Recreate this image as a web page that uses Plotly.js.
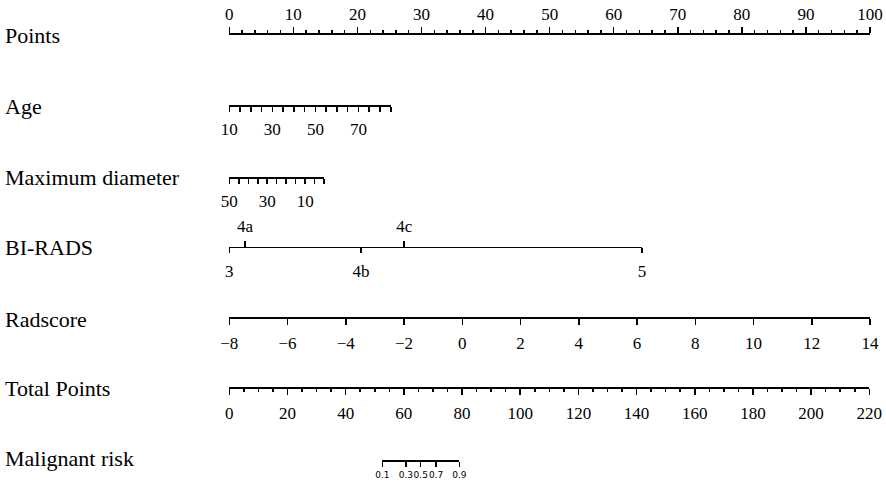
<!DOCTYPE html>
<html>
<head>
<meta charset="utf-8">
<script src="https://cdn.plot.ly/plotly-3.0.1.min.js"></script>
<style>html,body{margin:0;padding:0;background:#fff;}#chart{width:886px;height:487px;}</style>
</head>
<body>
<div id="chart"></div>
<script>
// ---- data ----
const rowNames = ['Points', 'Age', 'Maximum diameter', 'BI-RADS', 'Radscore', 'Total Points', 'Malignant risk'];

const pointsTicks = [0, 10, 20, 30, 40, 50, 60, 70, 80, 90, 100];

const ageRange = [10, 85];
const ageRangePoints = [0, 25.2];
const ageLabels = [10, 30, 50, 70];

const diameterRange = [50, 0];
const diameterRangePoints = [0, 14.8];
const diameterLabels = [50, 30, 10];

const biradsLevels = ['3', '4a', '4b', '4c', '5'];
const biradsPoints = [0, 2.45, 20.55, 27.3, 64.4];
const biradsBelow = ['3', '4b', '5'];

const radscoreRange = [-8, 14];
const radscoreRangePoints = [0, 100];
const radscoreTicks = [-8, -6, -4, -2, 0, 2, 4, 6, 8, 10, 12, 14];

const totalRange = [0, 220];
const totalTicks = [0, 20, 40, 60, 80, 100, 120, 140, 160, 180, 200, 220];

const riskLabels = ['0.1', '0.3', '0.5', '0.7', '0.9'];
const riskTotals = [52.6, 60.7, 65.8, 71.1, 79.1];

// ---- layout geometry ----
const W = 886, H = 487;
const X0 = 229.3, X100 = 870;           // pixel span of the Points scale
const rowY = [33, 105, 177, 246.5, 317, 387, 460];
const labelY = [35, 106, 177, 247, 319, 388, 458];

const pxPts = p => X0 + p * (X100 - X0) / 100;
const pxTot = t => X0 + t * (869.3 - X0) / 220;
const dom = (a, b) => [a / W, b / W];
const pos = y => 1 - y / H;

const FONT = 'Liberation Serif, Times New Roman, serif';
const tickfont = {family: FONT, size: 17, color: '#000'};
const base = {
  anchor: 'free', showline: true, linecolor: '#000', linewidth: 1.5,
  ticks: 'outside', tickcolor: '#000', tickwidth: 1.5, ticklen: 5, tickangle: 0,
  showgrid: false, zeroline: false, fixedrange: true, tickfont: tickfont
};

const layout = {
  width: W, height: H, margin: {l: 0, r: 0, t: 0, b: 0},
  paper_bgcolor: '#fff', plot_bgcolor: 'rgba(0,0,0,0)', showlegend: false,
  yaxis: {range: [0, 1], visible: false, domain: [0, 1], fixedrange: true},
  xaxis: Object.assign({}, base, {
    domain: dom(pxPts(0), pxPts(100)), range: [0, 100], position: pos(rowY[0]), side: 'top',
    tickmode: 'array', tickvals: pointsTicks, ticklen: 6, ticklabelstandoff: 0,
    minor: {tickmode: 'linear', tick0: 0, dtick: 2, ticks: 'outside', ticklen: 3, tickcolor: '#000', tickwidth: 1.5}
  }),
  xaxis2: Object.assign({}, base, {
    domain: dom(pxPts(ageRangePoints[0]), pxPts(ageRangePoints[1])), range: ageRange, position: pos(rowY[1]),
    tickmode: 'array', tickvals: ageLabels, ticklen: 5, ticklabelstandoff: 3,
    minor: {tickmode: 'linear', tick0: 10, dtick: 5, ticks: 'outside', ticklen: 5, tickcolor: '#000', tickwidth: 1.5}
  }),
  xaxis3: Object.assign({}, base, {
    domain: dom(pxPts(diameterRangePoints[0]), pxPts(diameterRangePoints[1])), range: diameterRange, position: pos(rowY[2]),
    tickmode: 'array', tickvals: diameterLabels, ticklen: 5, ticklabelstandoff: 3,
    minor: {tickmode: 'linear', tick0: 0, dtick: 5, ticks: 'outside', ticklen: 5, tickcolor: '#000', tickwidth: 1.5}
  }),
  xaxis4: Object.assign({}, base, {
    domain: dom(pxPts(biradsPoints[0]), pxPts(biradsPoints[biradsPoints.length - 1])),
    range: [biradsPoints[0], biradsPoints[biradsPoints.length - 1]], position: pos(rowY[3]),
    tickmode: 'array',
    tickvals: biradsPoints.filter((p, i) => biradsBelow.includes(biradsLevels[i])),
    ticktext: biradsLevels.filter(l => biradsBelow.includes(l)),
    ticklen: 5, ticklabelstandoff: 4
  }),
  xaxis5: Object.assign({}, base, {
    domain: dom(pxPts(biradsPoints[0]), pxPts(biradsPoints[biradsPoints.length - 1])),
    range: [biradsPoints[0], biradsPoints[biradsPoints.length - 1]], position: pos(rowY[3]), side: 'top',
    tickmode: 'array',
    tickvals: biradsPoints.filter((p, i) => !biradsBelow.includes(biradsLevels[i])),
    ticktext: biradsLevels.filter(l => !biradsBelow.includes(l)),
    ticklen: 6, ticklabelstandoff: 2
  }),
  xaxis6: Object.assign({}, base, {
    domain: dom(pxPts(radscoreRangePoints[0]), pxPts(radscoreRangePoints[1])), range: radscoreRange, position: pos(rowY[4]),
    tickmode: 'array', tickvals: radscoreTicks, ticklen: 6, ticklabelstandoff: 4
  }),
  xaxis7: Object.assign({}, base, {
    domain: dom(pxTot(totalRange[0]), pxTot(totalRange[1])), range: totalRange, position: pos(rowY[5]),
    tickmode: 'array', tickvals: totalTicks, ticklen: 6, ticklabelstandoff: 4,
    minor: {tickmode: 'linear', tick0: 0, dtick: 5, ticks: 'outside', ticklen: 3, tickcolor: '#000', tickwidth: 1.5}
  }),
  xaxis8: Object.assign({}, base, {
    domain: dom(pxTot(riskTotals[0]), pxTot(riskTotals[riskTotals.length - 1])),
    range: [riskTotals[0], riskTotals[riskTotals.length - 1]], position: pos(rowY[6]),
    tickmode: 'array', tickvals: riskTotals, ticktext: riskLabels, ticklen: 5, ticklabelstandoff: 1,
    tickfont: {family: 'DejaVu Sans, sans-serif', size: 9, color: '#000'}
  }),
  annotations: rowNames.map((name, i) => ({
    xref: 'paper', yref: 'paper', x: 3 / W, y: pos(labelY[i]), xanchor: 'left', yanchor: 'middle',
    text: name, showarrow: false, font: {family: FONT, size: 22, color: '#000'}
  }))
};

// invisible carrier traces so every scale is drawn by the library
const axisData = [
  ['x', pointsTicks], ['x2', ageRange], ['x3', diameterRange], ['x4', biradsPoints], ['x5', biradsPoints],
  ['x6', radscoreRange], ['x7', totalRange], ['x8', riskTotals]
];
const traces = axisData.map(([ax, xs]) => ({
  type: 'scatter', mode: 'markers', x: xs, y: xs.map(() => 0.5), xaxis: ax, yaxis: 'y',
  marker: {opacity: 0, size: 1}, hoverinfo: 'skip', showlegend: false
}));

Plotly.newPlot('chart', traces, layout, {staticPlot: true, displayModeBar: false});
</script>
</body>
</html>
